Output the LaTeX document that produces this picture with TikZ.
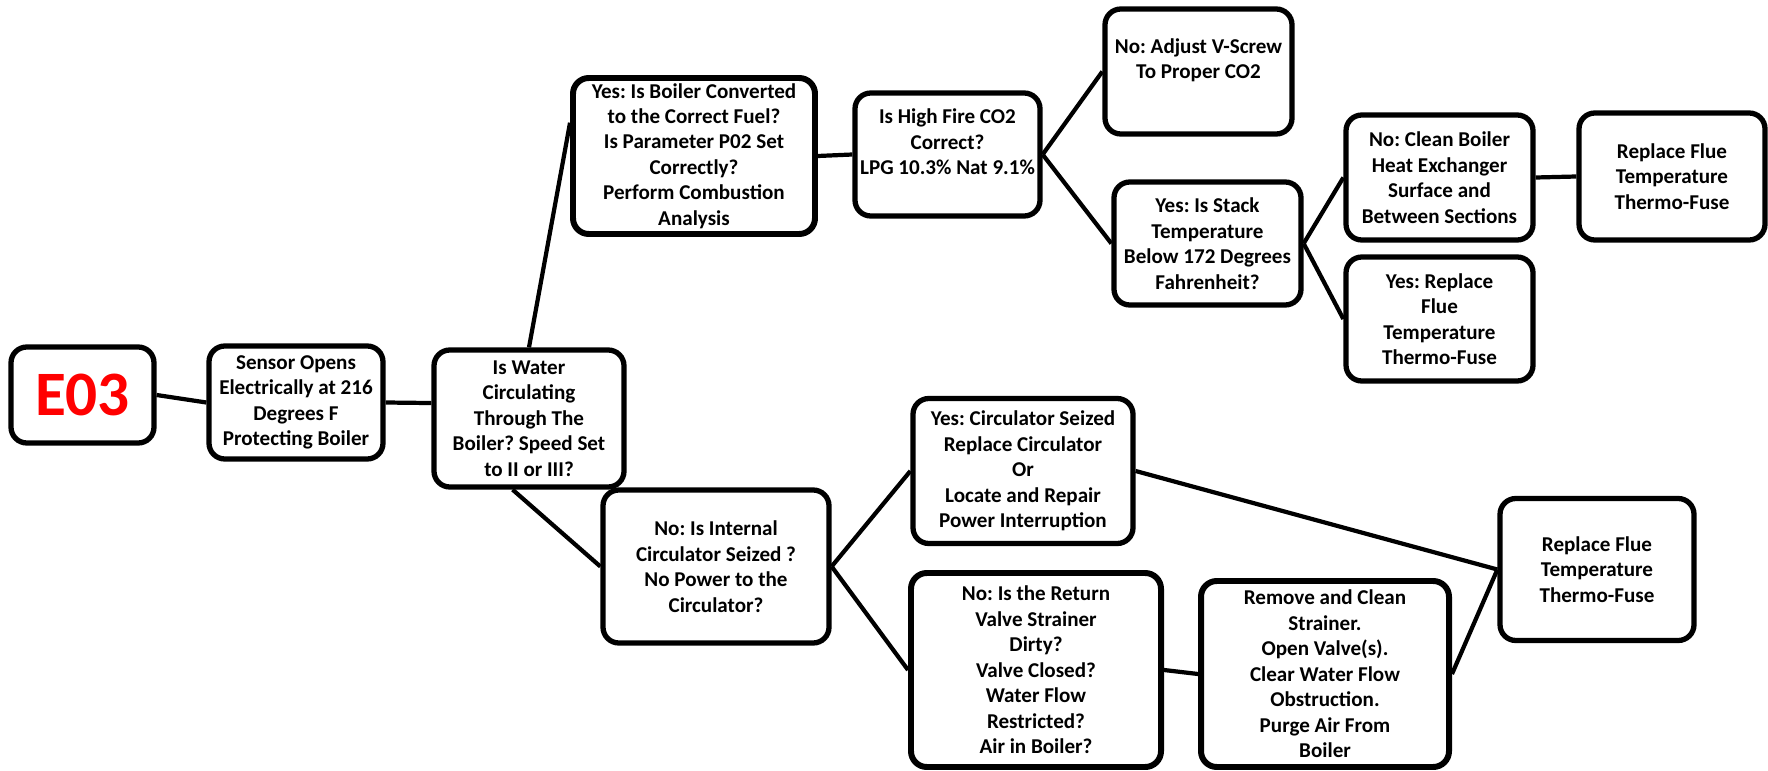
\documentclass[tikz,border=0pt]{standalone}
\usepackage{fontspec}
\setmainfont{Carlito}
\frenchspacing
\usetikzlibrary{calc}

\begin{document}
\begin{tikzpicture}[
  box/.style={draw=black, fill=white, rounded corners=9pt, line width=3pt,
              align=center, inner sep=0pt,
              font=\fontsize{12}{14.5}\selectfont\bfseries},
  link/.style={draw=black, line width=2.4pt},
]
\useasboundingbox (0,0) rectangle (35.36,-15.42);

% start of the chart
\node[box, minimum width=2.86cm, minimum height=1.92cm,
      font=\fontsize{36}{42}\selectfont\bfseries, text=red] (code) at (1.65,-7.90) {E03};

\node[box, minimum width=3.48cm, minimum height=2.26cm] (sensor) at (5.92,-8.05) {
  Sensor Opens\\Electrically at 216\\Degrees F\\Protecting Boiler};

\node[box, minimum width=3.8cm, minimum height=2.74cm] (water) at (10.58,-8.37) {
  Is Water\\Circulating\\Through The\\Boiler? Speed Set\\to II or III?};

% upper branch
\node[box, minimum width=4.84cm, minimum height=3.12cm, line width=3.4pt] (fuel) at (13.88,-3.12) {
  Yes: Is Boiler Converted\\to the Correct Fuel?\\Is Parameter P02 Set\\Correctly?\\Perform Combustion\\Analysis};

\node[box, minimum width=3.7cm, minimum height=2.46cm] (highfire) at (18.95,-3.09) {
  Is High Fire CO2\\Correct?\\LPG 10.3\% Nat 9.1\%\\~};

\node[box, minimum width=3.74cm, minimum height=2.5cm] (vscrew) at (23.97,-1.43) {
  No: Adjust V-Screw\\To Proper CO2\\~};

\node[box, minimum width=3.74cm, minimum height=2.46cm] (stack) at (24.15,-4.87) {
  Yes: Is Stack\\Temperature\\Below 172 Degrees\\Fahrenheit?};

\node[box, minimum width=3.74cm, minimum height=2.5cm] (clean) at (28.79,-3.55) {
  No: Clean Boiler\\Heat Exchanger\\Surface and\\Between Sections};

\node[box, minimum width=3.72cm, minimum height=2.54cm] (fuseA) at (33.44,-3.53) {
  Replace Flue\\Temperature\\Thermo-Fuse};

\node[box, minimum width=3.74cm, minimum height=2.48cm] (fuseB) at (28.79,-6.38) {
  Yes: Replace\\Flue\\Temperature\\Thermo-Fuse};

% lower branch
\node[box, minimum width=4.52cm, minimum height=3.06cm] (internal) at (14.32,-11.33) {
  No: Is Internal\\Circulator Seized ?\\No Power to the\\Circulator?};

\node[box, minimum width=4.4cm, minimum height=2.9cm] (seized) at (20.46,-9.42) {
  Yes: Circulator Seized\\Replace Circulator\\Or\\Locate and Repair\\Power Interruption};

\node[box, minimum width=5.0cm, minimum height=3.88cm, line width=3.4pt] (strainer) at (20.72,-13.40) {
  No: Is the Return\\Valve Strainer\\Dirty?\\Valve Closed?\\Water Flow\\Restricted?\\Air in Boiler?};

\node[box, minimum width=4.96cm, minimum height=3.72cm, line width=3.4pt] (remove) at (26.5,-13.48) {
  Remove and Clean\\Strainer.\\Open Valve(s).\\Clear Water Flow\\Obstruction.\\Purge Air From\\Boiler};

\node[box, minimum width=3.88cm, minimum height=2.84cm] (fuseC) at (31.94,-11.39) {
  Replace Flue\\Temperature\\Thermo-Fuse};

% connectors
\draw[link] (code.east) -- (sensor.west);
\draw[link] (sensor.east) -- (water.171);
\draw[link] (water.north) -- (fuel.165);
\draw[link] (water.-103) -- (internal.west);
\draw[link] (fuel.east) -- (highfire.west);
\draw[link] (highfire.east) -- (vscrew.west);
\draw[link] (highfire.east) -- (stack.west);
\draw[link] (stack.east) -- (clean.west);
\draw[link] (stack.east) -- (fuseB.west);
\draw[link] (clean.east) -- (fuseA.west);
\draw[link] (internal.east) -- (seized.west);
\draw[link] (internal.east) -- (strainer.west);
\draw[link] (seized.east) -- (fuseC.west);
\draw[link] (strainer.east) -- (remove.west);
\draw[link] (remove.east) -- (fuseC.west);
\end{tikzpicture}
\end{document}
